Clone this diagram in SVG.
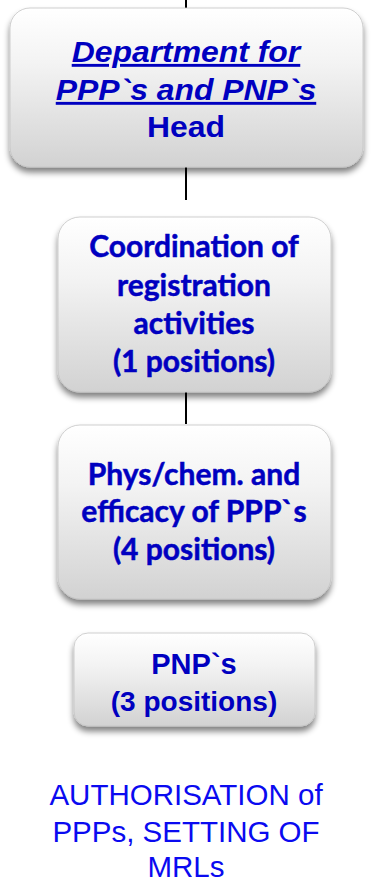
<svg xmlns="http://www.w3.org/2000/svg" width="375" height="886" viewBox="0 0 375 886">
<defs>
<linearGradient id="g" x1="0" y1="0" x2="0" y2="1">
<stop offset="0" stop-color="#ffffff"/>
<stop offset="0.35" stop-color="#f3f3f3"/>
<stop offset="1" stop-color="#d2d2d2"/>
</linearGradient>
<filter id="sh" x="-10%" y="-10%" width="120%" height="130%">
<feGaussianBlur in="SourceAlpha" stdDeviation="3"/>
<feOffset dx="0" dy="5" result="b"/>
<feComponentTransfer><feFuncA type="linear" slope="0.5"/></feComponentTransfer>
<feMerge><feMergeNode/><feMergeNode in="SourceGraphic"/></feMerge>
</filter>
</defs>
<style>
.box{fill:url(#g);stroke:#c4c4c4;stroke-width:0.8;filter:url(#sh)}
.ar{font-family:"Liberation Sans",Arial,sans-serif;font-weight:bold;font-size:29px;fill:#0000c0;text-anchor:middle}
.cb{font-family:Lato,"Liberation Sans",sans-serif;font-weight:bold;font-size:30px;fill:#0000c0;stroke:#0000c0;stroke-width:0.5;text-anchor:middle}
.ft{font-family:"Liberation Sans",Arial,sans-serif;font-size:29.5px;fill:#0a0af0;text-anchor:middle}
.ln{stroke:#000;stroke-width:2}
</style>
<g id="connectors">
<line class="ln" x1="186" y1="0" x2="186" y2="9"/>
<line class="ln" x1="186" y1="167" x2="186" y2="200"/>
<line class="ln" x1="186" y1="392" x2="186" y2="424"/>
</g>
<g id="head">
<rect class="box" x="10" y="8" width="353" height="159" rx="20"/>
<g transform="translate(186,0) scale(1.1,1) translate(-186,0)">
<text class="ar" x="186" y="62" font-style="italic" text-decoration="underline">Department for</text>
<text class="ar" x="186" y="100" font-style="italic" text-decoration="underline">PPP`s and PNP`s</text>
<text class="ar" x="186" y="137">Head</text>
</g>
</g>
<g id="coord">
<rect class="box" x="58" y="217" width="273" height="175" rx="22"/>
<text class="cb" x="194" y="257">Coordination of</text>
<text class="cb" x="194" y="296">registration</text>
<text class="cb" x="194" y="334">activities</text>
<text class="cb" x="194" y="372">(1 positions)</text>
</g>
<g id="phys">
<rect class="box" x="58" y="425" width="273" height="174" rx="22"/>
<text class="cb" x="194" y="485">Phys/chem. and</text>
<text class="cb" x="194" y="522">efficacy of PPP`s</text>
<text class="cb" x="194" y="560">(4 positions)</text>
</g>
<g id="pnp">
<rect class="box" x="74" y="633" width="241" height="93" rx="14"/>
<text class="ar" x="194" y="674" font-size="28">PNP`s</text>
<text class="ar" x="194" y="711" style="font-size:28px">(3 positions)</text>
</g>
<g id="caption">
<text class="ft" x="186" y="805">AUTHORISATION of</text>
<text class="ft" x="186" y="842">PPPs, SETTING OF</text>
<text class="ft" x="186" y="877">MRLs</text>
</g>
</svg>
